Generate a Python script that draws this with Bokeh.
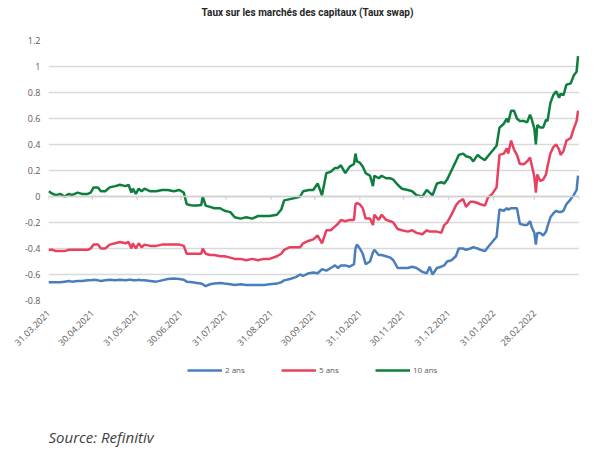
from math import pi

import pandas as pd
from bokeh.embed import file_html
from bokeh.layouts import column
from bokeh.models import (ColumnDataSource, FixedTicker, Label, Legend, LegendItem,
                          NumeralTickFormatter, Span)
from bokeh.plotting import figure
from bokeh.resources import INLINE

# values (CHF swap rates, %)
dates = [
    "2021-03-31", "2021-04-03", "2021-04-05", "2021-04-08", "2021-04-11", "2021-04-14", "2021-04-16", "2021-04-20", "2021-04-23", "2021-04-27",
    "2021-04-29", "2021-05-01", "2021-05-04", "2021-05-06", "2021-05-09", "2021-05-12", "2021-05-16", "2021-05-19", "2021-05-23", "2021-05-25",
    "2021-05-27", "2021-05-28", "2021-05-30", "2021-06-01", "2021-06-03", "2021-06-05", "2021-06-09", "2021-06-13", "2021-06-17", "2021-06-21",
    "2021-06-25", "2021-06-29", "2021-07-02", "2021-07-04", "2021-07-08", "2021-07-11", "2021-07-14", "2021-07-15", "2021-07-17", "2021-07-20",
    "2021-07-23", "2021-07-27", "2021-07-30", "2021-08-03", "2021-08-06", "2021-08-10", "2021-08-14", "2021-08-18", "2021-08-22", "2021-08-26",
    "2021-08-30", "2021-09-04", "2021-09-07", "2021-09-09", "2021-09-13", "2021-09-17", "2021-09-20", "2021-09-22", "2021-09-26", "2021-09-29",
    "2021-10-02", "2021-10-05", "2021-10-08", "2021-10-11", "2021-10-14", "2021-10-16", "2021-10-18", "2021-10-21", "2021-10-24", "2021-10-27",
    "2021-10-28", "2021-10-29", "2021-10-31", "2021-11-02", "2021-11-04", "2021-11-07", "2021-11-09", "2021-11-10", "2021-11-13", "2021-11-15",
    "2021-11-18", "2021-11-21", "2021-11-23", "2021-11-26", "2021-11-29", "2021-12-03", "2021-12-06", "2021-12-09", "2021-12-13", "2021-12-16",
    "2021-12-18", "2021-12-20", "2021-12-23", "2021-12-26", "2021-12-28", "2021-12-30", "2022-01-02", "2022-01-05", "2022-01-07", "2022-01-10",
    "2022-01-12", "2022-01-15", "2022-01-17", "2022-01-20", "2022-01-22", "2022-01-25", "2022-01-27", "2022-01-30", "2022-02-02", "2022-02-04",
    "2022-02-07", "2022-02-09", "2022-02-10", "2022-02-12", "2022-02-14", "2022-02-16", "2022-02-18", "2022-02-21", "2022-02-23", "2022-02-25",
    "2022-02-26", "2022-02-28", "2022-03-01", "2022-03-02", "2022-03-04", "2022-03-06", "2022-03-08", "2022-03-09", "2022-03-11", "2022-03-13",
    "2022-03-15", "2022-03-17", "2022-03-18", "2022-03-20", "2022-03-22", "2022-03-25", "2022-03-27", "2022-03-29", "2022-03-30",
]

taux_2 = [
    -0.66, -0.66, -0.66, -0.66, -0.655, -0.65, -0.655, -0.65, -0.65, -0.645,
    -0.645, -0.64, -0.645, -0.65, -0.645, -0.64, -0.645, -0.64, -0.645, -0.64,
    -0.64, -0.645, -0.645, -0.64, -0.645, -0.645, -0.65, -0.655, -0.645, -0.635,
    -0.63, -0.635, -0.64, -0.655, -0.66, -0.665, -0.67, -0.675, -0.69, -0.675,
    -0.67, -0.665, -0.67, -0.675, -0.68, -0.675, -0.68, -0.68, -0.68, -0.68,
    -0.675, -0.67, -0.66, -0.645, -0.635, -0.62, -0.60, -0.61, -0.59, -0.585,
    -0.59, -0.56, -0.57, -0.55, -0.53, -0.55, -0.53, -0.53, -0.54, -0.52,
    -0.40, -0.37, -0.40, -0.44, -0.52, -0.50, -0.43, -0.41, -0.45, -0.45,
    -0.46, -0.47, -0.49, -0.55, -0.55, -0.55, -0.54, -0.55, -0.58, -0.59,
    -0.54, -0.60, -0.55, -0.54, -0.53, -0.50, -0.49, -0.46, -0.40, -0.40,
    -0.41, -0.40, -0.39, -0.40, -0.41, -0.42, -0.39, -0.35, -0.31, -0.10,
    -0.11, -0.09, -0.10, -0.09, -0.09, -0.09, -0.21, -0.22, -0.22, -0.19,
    -0.23, -0.28, -0.37, -0.28, -0.28, -0.30, -0.27, -0.23, -0.16, -0.13,
    -0.11, -0.12, -0.12, -0.11, -0.06, -0.02, 0.01, 0.05, 0.16,
]

taux_5 = [
    -0.41, -0.41, -0.42, -0.42, -0.42, -0.41, -0.41, -0.41, -0.41, -0.41,
    -0.40, -0.37, -0.37, -0.40, -0.40, -0.37, -0.36, -0.35, -0.36, -0.35,
    -0.40, -0.36, -0.40, -0.36, -0.39, -0.37, -0.38, -0.38, -0.37, -0.37,
    -0.37, -0.37, -0.38, -0.44, -0.44, -0.44, -0.44, -0.40, -0.44, -0.45,
    -0.45, -0.46, -0.46, -0.47, -0.48, -0.48, -0.49, -0.48, -0.49, -0.48,
    -0.48, -0.46, -0.44, -0.41, -0.39, -0.39, -0.39, -0.36, -0.34, -0.33,
    -0.30, -0.36, -0.26, -0.26, -0.23, -0.21, -0.18, -0.19, -0.18, -0.18,
    -0.06, -0.05, -0.06, -0.09, -0.17, -0.17, -0.22, -0.14, -0.18, -0.14,
    -0.18, -0.19, -0.20, -0.25, -0.26, -0.27, -0.26, -0.28, -0.29, -0.26,
    -0.27, -0.27, -0.27, -0.28, -0.22, -0.20, -0.14, -0.07, -0.04, -0.02,
    -0.08, -0.04, -0.04, -0.05, -0.06, -0.07, -0.01, 0.02, 0.07, 0.32,
    0.33, 0.37, 0.33, 0.43, 0.36, 0.32, 0.25, 0.25, 0.27, 0.30,
    0.25, 0.15, 0.03, 0.17, 0.12, 0.13, 0.17, 0.23, 0.33, 0.38,
    0.40, 0.36, 0.32, 0.35, 0.43, 0.45, 0.52, 0.58, 0.66,
]

taux_10 = [
    0.04, 0.02, 0.01, 0.02, 0.00, 0.02, 0.01, 0.03, 0.02, 0.02,
    0.03, 0.07, 0.07, 0.04, 0.04, 0.07, 0.08, 0.09, 0.08, 0.09,
    0.03, 0.06, 0.02, 0.06, 0.04, 0.06, 0.04, 0.04, 0.05, 0.05,
    0.04, 0.05, 0.03, -0.06, -0.07, -0.07, -0.065, 0.00, -0.07, -0.08,
    -0.09, -0.09, -0.11, -0.12, -0.16, -0.17, -0.16, -0.17, -0.15, -0.15,
    -0.15, -0.14, -0.10, -0.03, -0.02, -0.01, 0.00, 0.04, 0.05, 0.05,
    0.10, 0.01, 0.18, 0.19, 0.22, 0.22, 0.24, 0.18, 0.23, 0.25,
    0.33, 0.27, 0.26, 0.23, 0.18, 0.16, 0.08, 0.16, 0.14, 0.16,
    0.14, 0.14, 0.13, 0.09, 0.06, 0.05, 0.04, 0.01, 0.00, 0.05,
    0.03, 0.01, 0.10, 0.11, 0.10, 0.13, 0.20, 0.27, 0.32, 0.33,
    0.31, 0.30, 0.27, 0.32, 0.30, 0.28, 0.31, 0.35, 0.39, 0.53,
    0.56, 0.60, 0.57, 0.66, 0.66, 0.60, 0.58, 0.58, 0.57, 0.63,
    0.60, 0.52, 0.40, 0.55, 0.53, 0.53, 0.59, 0.58, 0.72, 0.78,
    0.81, 0.76, 0.79, 0.78, 0.86, 0.87, 0.93, 0.96, 1.08,
]

tick_dates = [
    "2021-03-31", "2021-04-30", "2021-05-31", "2021-06-30", "2021-07-31", "2021-08-31",
    "2021-09-30", "2021-10-31", "2021-11-30", "2021-12-31", "2022-01-31", "2022-02-28",
]
tick_labels = [
    "31.03.2021", "30.04.2021", "31.05.2021", "30.06.2021", "31.07.2021", "31.08.2021",
    "30.09.2021", "31.10.2021", "30.11.2021", "31.12.2021", "31.01.2022", "28.02.2022",
]
axis_start = "2021-03-31"
axis_end = "2022-03-31"
y_ticks = [-0.8, -0.6, -0.4, -0.2, 0.0, 0.2, 0.4, 0.6, 0.8, 1.0, 1.2]

series = [("2 ans", "taux_2", "#4A7EBB"), ("5 ans", "taux_5", "#E8405F"), ("10 ans", "taux_10", "#0E7E3E")]


def strip(height):
    # axis-less figure used for the header and footer rows
    s = figure(width=597, height=height, x_range=(0, 1), y_range=(0, 1), title=None,
               x_axis_location=None, y_axis_location=None,
               output_backend="svg", toolbar_location=None,
               min_border=0, min_border_left=0, min_border_right=0,
               min_border_top=0, min_border_bottom=0)
    s.grid.visible = False
    s.outline_line_color = None
    return s


src = ColumnDataSource(dict(x=pd.to_datetime(dates), taux_2=taux_2, taux_5=taux_5, taux_10=taux_10))

head = strip(32)
head.add_layout(Label(x=259, y=20, x_units="screen", y_units="screen",
                      text="Taux sur les marchés des capitaux (Taux swap)",
                      text_font="Roboto", text_font_style="bold", text_font_size="10px",
                      text_color="#262626", text_align="center", text_baseline="middle"))

p = figure(frame_width=531, frame_height=260, x_axis_type="datetime", title=None,
           x_range=(pd.Timestamp(axis_start), pd.Timestamp(axis_end)),
           y_range=(y_ticks[0], y_ticks[-1]),
           output_backend="svg", toolbar_location=None,
           min_border_left=48, min_border_right=18, min_border_top=8, min_border_bottom=55)
p.outline_line_color = None

# grid and zero axis
p.xgrid.grid_line_color = None
p.ygrid.ticker = FixedTicker(ticks=y_ticks)
p.ygrid.grid_line_color = "#d9d9d9"
p.ygrid.grid_line_width = 1.3
p.add_layout(Span(location=0, dimension="width", line_color="#d0d0d0", line_width=1.5))

tick_ms = [int(t.value // 10**6) for t in pd.to_datetime(tick_dates)]
tick_x = list(pd.to_datetime(tick_dates + [axis_end]))
p.segment(x0=tick_x, y0=0, x1=tick_x, y1=-0.025, line_color="#d0d0d0", line_width=1.3)

p.xaxis.ticker = FixedTicker(ticks=tick_ms)
p.xaxis.major_label_overrides = dict(zip(tick_ms, tick_labels))
p.xaxis.major_label_orientation = pi / 4
p.xaxis.major_label_standoff = 11

p.yaxis.ticker = FixedTicker(ticks=y_ticks)
p.yaxis.formatter = NumeralTickFormatter(format="0.[0]")
p.yaxis.major_label_standoff = 8

for ax in (p.xaxis, p.yaxis):
    ax.axis_line_color = None
    ax.major_tick_line_color = None
    ax.minor_tick_line_color = None
    ax.major_tick_out = 0
    ax.major_tick_in = 0
    ax.major_label_text_font = "Open Sans"
    ax.major_label_text_font_size = "9px"
    ax.major_label_text_color = "#595959"

for label, col, color in series:
    p.line("x", col, source=src, line_color=color, line_width=2.5)

# footer: legend and source (its frame lines up with the chart frame)
foot = strip(96)

items = []
for label, col, color in series:
    # placeholder renderer (no visible data) so the legend can show the line swatch
    r = foot.line(x=[float("nan")], y=[float("nan")], line_color=color, line_width=2.5)
    items.append(LegendItem(label=label, renderers=[r]))

legend = Legend(items=items, orientation="horizontal", location=(139, 76),
                glyph_width=35, glyph_height=8, label_standoff=3, spacing=36,
                label_text_font="Open Sans", label_text_font_size="8px",
                label_text_color="#595959", border_line_color=None,
                background_fill_alpha=0, padding=0, margin=0)
foot.add_layout(legend)

foot.add_layout(Label(x=0, y=15, x_units="screen", y_units="screen",
                      text="Source: Refinitiv", text_font="Open Sans",
                      text_font_style="italic", text_font_size="15px",
                      text_color="#404040", text_baseline="alphabetic"))

open("out.html", "w").write(file_html(column(head, p, foot, spacing=0), INLINE))
